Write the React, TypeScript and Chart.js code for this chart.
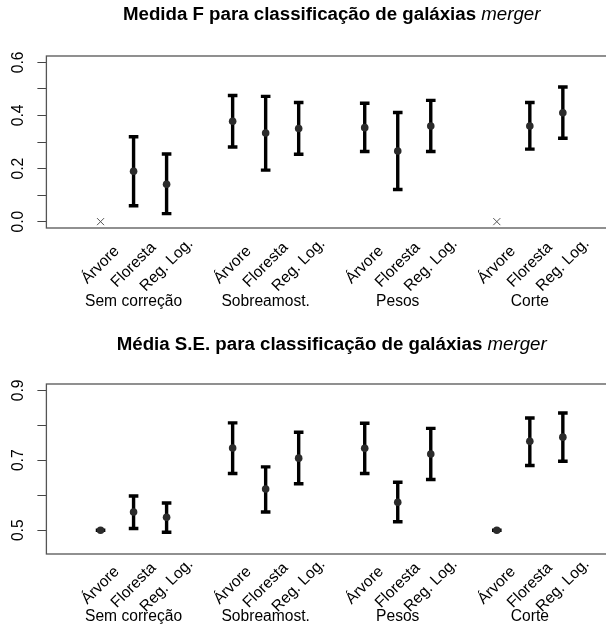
import React, { useEffect, useRef } from "react";
import { Chart, registerables } from "chart.js";

Chart.register(...registerables);

// ---------- data ----------
const groups = ["Sem correção", "Sobreamost.", "Pesos", "Corte"];
const methods = ["Árvore", "Floresta", "Reg. Log."];
const positions = [1, 2, 3, 5, 6, 7, 9, 10, 11, 13, 14, 15];
const groupCenters = [2, 6, 10, 14];

// Medida F (null = undefined, shown as × at 0)
const fMean = [null, 0.19, 0.141, 0.378, 0.334, 0.351, 0.354, 0.266, 0.36, null, 0.36, 0.41];
const fLow = [null, 0.06, 0.03, 0.281, 0.194, 0.254, 0.264, 0.121, 0.264, null, 0.273, 0.314];
const fHigh = [null, 0.32, 0.255, 0.475, 0.472, 0.449, 0.446, 0.411, 0.457, null, 0.449, 0.507];
const fNaPositions = [1, 13];
const fNaValues = [0, 0];
const fYTicks = [0, 0.1, 0.2, 0.3, 0.4, 0.5, 0.6];
const fYLabels = ["0.0", "", "0.2", "", "0.4", "", "0.6"];

// Média S.E.
const seMean = [0.5, 0.552, 0.537, 0.735, 0.618, 0.706, 0.734, 0.58, 0.718, 0.5, 0.754, 0.766];
const seLow = [0.5, 0.505, 0.494, 0.662, 0.552, 0.633, 0.662, 0.524, 0.645, 0.5, 0.685, 0.697];
const seHigh = [0.5, 0.598, 0.578, 0.807, 0.681, 0.78, 0.806, 0.637, 0.791, 0.5, 0.821, 0.835];
const seYTicks = [0.5, 0.6, 0.7, 0.8, 0.9];
const seYLabels = ["0.5", "", "0.7", "", "0.9"];

// ---------- style ----------
const FF = '"Liberation Sans", Arial, Helvetica, sans-serif';
const TITLE_SIZE = 18.7;
const LABEL_SIZE = 15.6;
const CANVAS_W = 630;

type Spec = {
  titleMain: string;
  titleItalic: string;
  mean: (number | null)[];
  low: (number | null)[];
  high: (number | null)[];
  naPos: number[];
  naVal: number[];
  yTicks: number[];
  yLabels: string[];
  yMin: number;
  yMax: number;
  height: number;
  padTop: number;
  padBottom: number;
  titleY: number;
  methodDy: number;
  groupDy: number;
};

function makeDecor(spec: Spec) {
  return {
    id: "decor",
    beforeDatasetsDraw(chart: any) {
      const { ctx, scales } = chart;
      const x = scales.x;
      const y = scales.y;
      ctx.save();
      ctx.strokeStyle = "#000";
      ctx.lineWidth = 3.4;
      ctx.lineCap = "butt";
      spec.low.forEach((lo, i) => {
        const hi = spec.high[i];
        if (lo == null || hi == null) return;
        const px = x.getPixelForValue(positions[i]);
        const yl = y.getPixelForValue(lo);
        const yh = y.getPixelForValue(hi);
        const cw = 4.8;
        ctx.beginPath();
        ctx.moveTo(px, yl);
        ctx.lineTo(px, yh);
        ctx.moveTo(px - cw, yl);
        ctx.lineTo(px + cw, yl);
        ctx.moveTo(px - cw, yh);
        ctx.lineTo(px + cw, yh);
        ctx.stroke();
      });
      ctx.restore();
    },
    afterDraw(chart: any) {
      const { ctx, chartArea: a, scales } = chart;
      const x = scales.x;
      ctx.save();
      // box
      ctx.strokeStyle = "#555";
      ctx.lineWidth = 1.3;
      ctx.strokeRect(a.left, a.top, a.right - a.left, a.bottom - a.top);

      // title
      ctx.fillStyle = "#000";
      ctx.textBaseline = "middle";
      ctx.textAlign = "left";
      ctx.font = `bold ${TITLE_SIZE}px ${FF}`;
      const w1 = ctx.measureText(spec.titleMain).width;
      ctx.font = `italic ${TITLE_SIZE}px ${FF}`;
      const w2 = ctx.measureText(spec.titleItalic).width;
      const cx = (a.left + a.right) / 2;
      const sx = cx - (w1 + w2) / 2;
      ctx.font = `bold ${TITLE_SIZE}px ${FF}`;
      ctx.fillText(spec.titleMain, sx, spec.titleY);
      ctx.font = `italic ${TITLE_SIZE}px ${FF}`;
      ctx.fillText(spec.titleItalic, sx + w1, spec.titleY);

      // rotated method labels, centred on each position
      ctx.font = `${LABEL_SIZE}px ${FF}`;
      positions.forEach((p, i) => {
        const px = x.getPixelForValue(p);
        ctx.save();
        ctx.translate(px, a.bottom + spec.methodDy);
        ctx.rotate(-Math.PI / 4);
        ctx.textAlign = "center";
        ctx.textBaseline = "middle";
        ctx.fillText(methods[i % methods.length], 0, 0);
        ctx.restore();
      });

      // group labels
      ctx.textAlign = "center";
      ctx.textBaseline = "middle";
      groups.forEach((g, k) => {
        ctx.fillText(g, x.getPixelForValue(groupCenters[k]), a.bottom + spec.groupDy);
      });
      ctx.restore();
    },
  };
}

function buildChart(canvas: HTMLCanvasElement, spec: Spec) {
  const meanPts = positions.map((p, i) => ({ x: p, y: spec.mean[i] }));
  const naPts = spec.naPos.map((p, i) => ({ x: p, y: spec.naVal[i] }));
  return new Chart(canvas, {
    type: "scatter",
    data: {
      datasets: [
        {
          data: meanPts as any,
          pointRadius: 3.8,
          pointBackgroundColor: "#2b2b2b",
          pointBorderWidth: 0,
          showLine: false,
        },
        {
          data: naPts as any,
          pointStyle: "crossRot",
          pointRadius: 5,
          pointBorderColor: "#555",
          pointBorderWidth: 1,
          showLine: false,
        },
      ],
    },
    options: {
      animation: false,
      responsive: false,
      events: [],
      layout: { padding: { top: spec.padTop, bottom: spec.padBottom, left: 0, right: CANVAS_W - 617 } },
      plugins: { legend: { display: false }, tooltip: { enabled: false }, title: { display: false } },
      scales: {
        x: { type: "linear", min: -0.64, max: 16.64, display: false },
        y: {
          type: "linear",
          min: spec.yMin,
          max: spec.yMax,
          afterBuildTicks: (scale: any) => {
            scale.ticks = spec.yTicks.map((v) => ({ value: v }));
          },
          afterFit: (scale: any) => {
            scale.width = 46.4;
          },
          ticks: {
            callback: (_v: any, idx: number) => spec.yLabels[idx],
            minRotation: 90,
            maxRotation: 90,
            crossAlign: "center",
            padding: 8,
            color: "#000",
            font: { family: FF, size: LABEL_SIZE },
          },
          grid: {
            display: true,
            drawOnChartArea: false,
            drawTicks: true,
            tickLength: 9,
            color: "#444",
            lineWidth: 1,
          },
          border: { display: false },
        },
      },
    } as any,
    plugins: [makeDecor(spec)],
  });
}

const topSpec: Spec = {
  titleMain: "Medida F para classificação de galáxias ",
  titleItalic: "merger",
  mean: fMean,
  low: fLow,
  high: fHigh,
  naPos: fNaPositions,
  naVal: fNaValues,
  yTicks: fYTicks,
  yLabels: fYLabels,
  yMin: -0.024,
  yMax: 0.624,
  height: 316,
  padTop: 56,
  padBottom: 88,
  titleY: 15,
  methodDy: 37,
  groupDy: 74,
};

const bottomSpec: Spec = {
  titleMain: "Média S.E. para classificação de galáxias ",
  titleItalic: "merger",
  mean: seMean,
  low: seLow,
  high: seHigh,
  naPos: [],
  naVal: [],
  yTicks: seYTicks,
  yLabels: seYLabels,
  yMin: 0.432,
  yMax: 0.918,
  height: 313,
  padTop: 68,
  padBottom: 75,
  titleY: 29,
  methodDy: 31.5,
  groupDy: 62.4,
};

function Plot({ spec, top }: { spec: Spec; top: number }) {
  const ref = useRef<HTMLCanvasElement | null>(null);
  useEffect(() => {
    if (!ref.current) return;
    const c = buildChart(ref.current, spec);
    return () => c.destroy();
  }, [spec]);
  return (
    <canvas
      ref={ref}
      width={CANVAS_W}
      height={spec.height}
      style={{ position: "absolute", left: 0, top, width: CANVAS_W, height: spec.height }}
    />
  );
}

export default function App() {
  return (
    <div
      style={{
        position: "fixed",
        left: 0,
        top: 0,
        width: 606,
        height: 629,
        overflow: "hidden",
        background: "#fff",
      }}
    >
      <Plot spec={topSpec} top={0} />
      <Plot spec={bottomSpec} top={316} />
    </div>
  );
}
